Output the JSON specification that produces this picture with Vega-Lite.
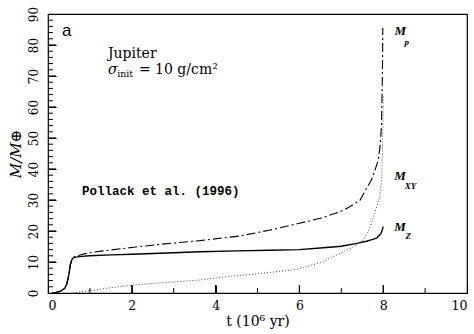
{
  "$schema": "https://vega.github.io/schema/vega-lite/v6.json",
  "width": 419,
  "height": 279,
  "autosize": {"type": "none"},
  "padding": {"left": 48, "top": 14, "right": 7, "bottom": 41},
  "background": "white",
  "config": {
    "view": {"stroke": "black", "strokeWidth": 1.2},
    "axis": {"labelFont": "DejaVu Serif", "titleFont": "DejaVu Serif", "labelColor": "black", "titleColor": "black", "titleFontWeight": "normal", "domain": false, "grid": false, "labelOverlap": false, "zindex": 1}
  },
  "resolve": {"axis": {"x": "independent", "y": "independent"}},
  "datasets": {
    "curves": [
      {"t": 0.1, "M": 0, "s": "Mz"}, {"t": 0.2, "M": 0.2, "s": "Mz"}, {"t": 0.3, "M": 0.6, "s": "Mz"}, {"t": 0.4, "M": 1.5, "s": "Mz"}, {"t": 0.45, "M": 3, "s": "Mz"}, {"t": 0.5, "M": 6, "s": "Mz"}, {"t": 0.53, "M": 9, "s": "Mz"}, {"t": 0.57, "M": 10.8, "s": "Mz"}, {"t": 0.62, "M": 11.5, "s": "Mz"}, {"t": 0.8, "M": 11.8, "s": "Mz"}, {"t": 1.0, "M": 12.0, "s": "Mz"}, {"t": 1.5, "M": 12.3, "s": "Mz"}, {"t": 2.0, "M": 12.5, "s": "Mz"}, {"t": 2.67, "M": 12.8, "s": "Mz"}, {"t": 3.63, "M": 13.3, "s": "Mz"}, {"t": 4.5, "M": 13.6, "s": "Mz"}, {"t": 5.3, "M": 13.8, "s": "Mz"}, {"t": 6.0, "M": 14.0, "s": "Mz"}, {"t": 6.5, "M": 14.5, "s": "Mz"}, {"t": 7.0, "M": 15.1, "s": "Mz"}, {"t": 7.37, "M": 16.0, "s": "Mz"}, {"t": 7.6, "M": 16.7, "s": "Mz"}, {"t": 7.75, "M": 17.3, "s": "Mz"}, {"t": 7.85, "M": 17.8, "s": "Mz"}, {"t": 7.95, "M": 19.2, "s": "Mz"}, {"t": 8.0, "M": 21.4, "s": "Mz"},
      {"t": 0.1, "M": 0, "s": "Mp"}, {"t": 0.2, "M": 0.2, "s": "Mp"}, {"t": 0.3, "M": 0.6, "s": "Mp"}, {"t": 0.4, "M": 1.5, "s": "Mp"}, {"t": 0.45, "M": 3, "s": "Mp"}, {"t": 0.5, "M": 6, "s": "Mp"}, {"t": 0.53, "M": 9, "s": "Mp"}, {"t": 0.57, "M": 10.8, "s": "Mp"}, {"t": 0.62, "M": 11.6, "s": "Mp"}, {"t": 0.8, "M": 12.4, "s": "Mp"}, {"t": 1.0, "M": 13.0, "s": "Mp"}, {"t": 1.5, "M": 13.9, "s": "Mp"}, {"t": 2.0, "M": 14.7, "s": "Mp"}, {"t": 2.67, "M": 15.7, "s": "Mp"}, {"t": 3.63, "M": 16.9, "s": "Mp"}, {"t": 4.58, "M": 18.4, "s": "Mp"}, {"t": 5.3, "M": 20.3, "s": "Mp"}, {"t": 6.0, "M": 22.5, "s": "Mp"}, {"t": 6.5, "M": 24.1, "s": "Mp"}, {"t": 6.97, "M": 26.2, "s": "Mp"}, {"t": 7.2, "M": 27.8, "s": "Mp"}, {"t": 7.45, "M": 30.0, "s": "Mp"}, {"t": 7.57, "M": 33.0, "s": "Mp"}, {"t": 7.72, "M": 36.5, "s": "Mp"}, {"t": 7.8, "M": 39.5, "s": "Mp"}, {"t": 7.88, "M": 42.7, "s": "Mp"}, {"t": 7.93, "M": 48.0, "s": "Mp"}, {"t": 7.96, "M": 54.5, "s": "Mp"}, {"t": 7.975, "M": 65.0, "s": "Mp"}, {"t": 7.985, "M": 75.0, "s": "Mp"}, {"t": 7.99, "M": 85.5, "s": "Mp"},
      {"t": 0.6, "M": 0, "s": "Mxy"}, {"t": 1.0, "M": 0.8, "s": "Mxy"}, {"t": 1.5, "M": 1.7, "s": "Mxy"}, {"t": 2.04, "M": 2.6, "s": "Mxy"}, {"t": 3.0, "M": 3.6, "s": "Mxy"}, {"t": 3.63, "M": 4.2, "s": "Mxy"}, {"t": 4.27, "M": 5.3, "s": "Mxy"}, {"t": 5.0, "M": 6.2, "s": "Mxy"}, {"t": 5.94, "M": 7.6, "s": "Mxy"}, {"t": 6.5, "M": 9.8, "s": "Mxy"}, {"t": 6.97, "M": 12.8, "s": "Mxy"}, {"t": 7.3, "M": 15.0, "s": "Mxy"}, {"t": 7.53, "M": 17.1, "s": "Mxy"}, {"t": 7.65, "M": 20.0, "s": "Mxy"}, {"t": 7.77, "M": 24.6, "s": "Mxy"}, {"t": 7.85, "M": 28.0, "s": "Mxy"}, {"t": 7.92, "M": 31.1, "s": "Mxy"}, {"t": 7.96, "M": 36.5, "s": "Mxy"}, {"t": 7.98, "M": 45.0, "s": "Mxy"}, {"t": 7.995, "M": 55.0, "s": "Mxy"}, {"t": 8.0, "M": 64.0, "s": "Mxy"}
    ],
    "xticks": [{"v": 2, "k": "major"}, {"v": 4, "k": "major"}, {"v": 6, "k": "major"}, {"v": 8, "k": "major"}, {"v": 1, "k": "minor"}, {"v": 3, "k": "minor"}, {"v": 5, "k": "minor"}, {"v": 7, "k": "minor"}, {"v": 9, "k": "minor"}],
    "yticks": [{"v": 10, "k": "major"}, {"v": 20, "k": "major"}, {"v": 30, "k": "major"}, {"v": 40, "k": "major"}, {"v": 50, "k": "major"}, {"v": 60, "k": "major"}, {"v": 70, "k": "major"}, {"v": 80, "k": "major"},
      {"v": 2, "k": "minor"}, {"v": 4, "k": "minor"}, {"v": 6, "k": "minor"}, {"v": 8, "k": "minor"}, {"v": 12, "k": "minor"}, {"v": 14, "k": "minor"}, {"v": 16, "k": "minor"}, {"v": 18, "k": "minor"}, {"v": 22, "k": "minor"}, {"v": 24, "k": "minor"}, {"v": 26, "k": "minor"}, {"v": 28, "k": "minor"}, {"v": 32, "k": "minor"}, {"v": 34, "k": "minor"}, {"v": 36, "k": "minor"}, {"v": 38, "k": "minor"}, {"v": 42, "k": "minor"}, {"v": 44, "k": "minor"}, {"v": 46, "k": "minor"}, {"v": 48, "k": "minor"}, {"v": 52, "k": "minor"}, {"v": 54, "k": "minor"}, {"v": 56, "k": "minor"}, {"v": 58, "k": "minor"}, {"v": 62, "k": "minor"}, {"v": 64, "k": "minor"}, {"v": 66, "k": "minor"}, {"v": 68, "k": "minor"}, {"v": 72, "k": "minor"}, {"v": 74, "k": "minor"}, {"v": 76, "k": "minor"}, {"v": 78, "k": "minor"}, {"v": 82, "k": "minor"}, {"v": 84, "k": "minor"}, {"v": 86, "k": "minor"}, {"v": 88, "k": "minor"}]
  },
  "layer": [
    {
      "data": {"name": "curves"},
      "transform": [{"filter": "datum.s === 'Mz'"}],
      "mark": {"type": "line", "color": "black", "strokeWidth": 1.4},
      "encoding": {
        "x": {"field": "t", "type": "quantitative", "scale": {"domain": [0, 10], "nice": false},
          "axis": {"orient": "bottom", "values": [0, 2, 4, 6, 8, 10], "offset": -8, "tickSize": 8, "tickColor": "black", "labelFontSize": 12.5, "labelPadding": 6, "title": "t (10⁶ yr)", "titleFontSize": 14, "titlePadding": 3}},
        "y": {"field": "M", "type": "quantitative", "scale": {"domain": [0, 90], "nice": false},
          "axis": {"orient": "left", "values": [0, 10, 20, 30, 40, 50, 60, 70, 80, 90], "offset": -8, "tickSize": 8, "tickColor": "black", "labelAngle": -90, "labelAlign": "center", "labelBaseline": "bottom", "labelFontSize": 12, "labelPadding": 8, "title": "M/M⊕", "titleFontSize": 15, "titleFontStyle": "italic", "titlePadding": 4}}
      }
    },
    {
      "data": {"name": "curves"},
      "transform": [{"filter": "datum.s === 'Mp'"}],
      "mark": {"type": "line", "color": "black", "strokeWidth": 1.1, "strokeDash": [9, 3, 2, 3]},
      "encoding": {"x": {"field": "t", "type": "quantitative", "axis": null}, "y": {"field": "M", "type": "quantitative", "axis": null}}
    },
    {
      "data": {"name": "curves"},
      "transform": [{"filter": "datum.s === 'Mxy'"}],
      "mark": {"type": "line", "color": "#333", "strokeWidth": 0.9, "strokeDash": [1, 2]},
      "encoding": {"x": {"field": "t", "type": "quantitative", "axis": null}, "y": {"field": "M", "type": "quantitative", "axis": null}}
    },
    {
      "data": {"name": "xticks"},
      "transform": [{"filter": "datum.k === 'major'"}],
      "mark": {"type": "rule", "color": "black", "strokeWidth": 1.2},
      "encoding": {"x": {"field": "v", "type": "quantitative", "axis": null}, "y": {"datum": 0, "type": "quantitative", "axis": null}, "y2": {"datum": 2.6}}
    },
    {
      "data": {"name": "xticks"},
      "transform": [{"filter": "datum.k === 'minor'"}],
      "mark": {"type": "rule", "color": "black", "strokeWidth": 1},
      "encoding": {"x": {"field": "v", "type": "quantitative", "axis": null}, "y": {"datum": 0, "type": "quantitative", "axis": null}, "y2": {"datum": 1.6}}
    },
    {
      "data": {"name": "yticks"},
      "transform": [{"filter": "datum.k === 'major'"}],
      "mark": {"type": "rule", "color": "black", "strokeWidth": 1.2},
      "encoding": {"y": {"field": "v", "type": "quantitative", "axis": null}, "x": {"datum": 0, "type": "quantitative", "axis": null}, "x2": {"datum": 0.19}}
    },
    {
      "data": {"name": "yticks"},
      "transform": [{"filter": "datum.k === 'minor'"}],
      "mark": {"type": "rule", "color": "black", "strokeWidth": 1},
      "encoding": {"y": {"field": "v", "type": "quantitative", "axis": null}, "x": {"datum": 0, "type": "quantitative", "axis": null}, "x2": {"datum": 0.12}}
    },
    {
      "data": {"values": [{"t": 0.45, "M": 84.5, "text": "a"}]},
      "mark": {"type": "text", "font": "Liberation Sans", "fontSize": 17, "align": "center", "baseline": "middle", "color": "black"},
      "encoding": {"x": {"field": "t", "type": "quantitative", "axis": null}, "y": {"field": "M", "type": "quantitative", "axis": null}, "text": {"field": "text"}}
    },
    {
      "data": {"values": [{"t": 1.43, "M": 75.8, "text": "Jupiter"}, {"t": 2.17, "M": 70.6, "text": "= 10 g/cm²"}]},
      "mark": {"type": "text", "font": "DejaVu Serif", "fontSize": 14, "align": "left", "baseline": "alphabetic", "color": "black"},
      "encoding": {"x": {"field": "t", "type": "quantitative", "axis": null}, "y": {"field": "M", "type": "quantitative", "axis": null}, "text": {"field": "text"}}
    },
    {
      "data": {"values": [{"t": 1.43, "M": 70.6, "text": "σ"}]},
      "mark": {"type": "text", "font": "DejaVu Serif", "fontSize": 14, "fontStyle": "italic", "align": "left", "baseline": "alphabetic", "color": "black"},
      "encoding": {"x": {"field": "t", "type": "quantitative", "axis": null}, "y": {"field": "M", "type": "quantitative", "axis": null}, "text": {"field": "text"}}
    },
    {
      "data": {"values": [{"t": 1.65, "M": 69.6, "text": "init"}]},
      "mark": {"type": "text", "font": "DejaVu Serif", "fontSize": 9.5, "align": "left", "baseline": "alphabetic", "color": "black"},
      "encoding": {"x": {"field": "t", "type": "quantitative", "axis": null}, "y": {"field": "M", "type": "quantitative", "axis": null}, "text": {"field": "text"}}
    },
    {
      "data": {"values": [{"t": 0.81, "M": 31.6, "text": "Pollack et al. (1996)"}]},
      "mark": {"type": "text", "font": "Liberation Mono", "fontSize": 12.5, "fontWeight": "bold", "align": "left", "baseline": "alphabetic", "color": "black"},
      "encoding": {"x": {"field": "t", "type": "quantitative", "axis": null}, "y": {"field": "M", "type": "quantitative", "axis": null}, "text": {"field": "text"}}
    },
    {
      "data": {"values": [{"t": 8.41, "M": 84.6, "text": "M"}, {"t": 8.4, "M": 37.6, "text": "M"}, {"t": 8.4, "M": 21.3, "text": "M"}]},
      "mark": {"type": "text", "font": "Liberation Serif", "fontSize": 13, "fontStyle": "italic", "fontWeight": "bold", "align": "center", "baseline": "middle", "color": "black"},
      "encoding": {"x": {"field": "t", "type": "quantitative", "axis": null}, "y": {"field": "M", "type": "quantitative", "axis": null}, "text": {"field": "text"}}
    },
    {
      "data": {"values": [{"t": 8.56, "M": 80.9, "text": "p"}, {"t": 8.65, "M": 34.4, "text": "XY"}, {"t": 8.6, "M": 18.5, "text": "Z"}]},
      "mark": {"type": "text", "font": "Liberation Serif", "fontSize": 9, "fontStyle": "italic", "fontWeight": "bold", "align": "center", "baseline": "middle", "color": "black"},
      "encoding": {"x": {"field": "t", "type": "quantitative", "axis": null}, "y": {"field": "M", "type": "quantitative", "axis": null}, "text": {"field": "text"}}
    }
  ]
}
